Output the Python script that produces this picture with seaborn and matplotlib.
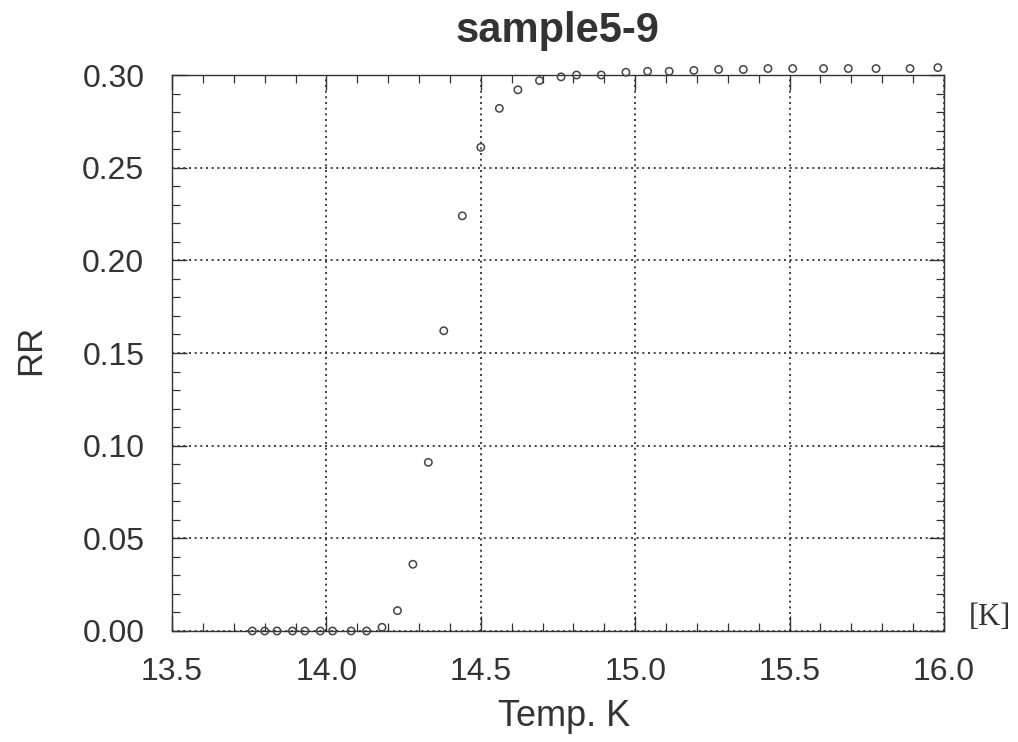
import numpy as np
import pandas as pd
import matplotlib
matplotlib.use("Agg")
import matplotlib.pyplot as plt
from matplotlib.ticker import MultipleLocator
import seaborn as sns

# data
temp = [13.76, 13.80, 13.84, 13.89, 13.93, 13.98, 14.02, 14.08, 14.13, 14.18,
        14.23, 14.28, 14.33, 14.38, 14.44, 14.50, 14.56, 14.62, 14.69, 14.76,
        14.81, 14.89, 14.97, 15.04, 15.11, 15.19, 15.27, 15.35, 15.43, 15.51,
        15.61, 15.69, 15.78, 15.89, 15.98]
rr = [0.000, 0.000, 0.000, 0.000, 0.000, 0.000, 0.000, 0.000, 0.000, 0.002,
      0.011, 0.036, 0.091, 0.162, 0.224, 0.261, 0.282, 0.292, 0.297, 0.299,
      0.300, 0.300, 0.3015, 0.302, 0.302, 0.3025, 0.303, 0.303, 0.3035, 0.3035,
      0.3035, 0.3035, 0.3035, 0.3035, 0.304]
xticks = [13.5, 14.0, 14.5, 15.0, 15.5, 16.0]
yticks = [0.00, 0.05, 0.10, 0.15, 0.20, 0.25, 0.30]

df = pd.DataFrame({"Temp": temp, "RR": rr})

sns.set_style("ticks")
plt.rcParams["font.family"] = ["Liberation Sans", "DejaVu Sans"]
txt = "#333333"

fig = plt.figure(figsize=(10.18, 7.42), dpi=100)
ax = fig.add_axes([0.169, 0.1496, 0.7583, 0.7493])

sns.scatterplot(data=df, x="Temp", y="RR", ax=ax, marker="o", s=28,
                facecolor="none", edgecolor="#444444", linewidth=1.1,
                clip_on=False, zorder=5)

ax.set_xlim(13.5, 16.0)
ax.set_ylim(0.0, 0.30)
ax.set_xticks(xticks)
ax.set_yticks(yticks)
ax.set_xticklabels([f"{v:.1f}" for v in xticks])
ax.set_yticklabels([f"{v:.2f}" for v in yticks])
ax.xaxis.set_minor_locator(MultipleLocator(0.1))
ax.yaxis.set_minor_locator(MultipleLocator(0.01))

ax.tick_params(which="major", direction="in", length=11, width=1.0,
               top=True, right=True, labelsize=23, labelcolor=txt, color="#333")
ax.tick_params(axis="x", which="major", pad=19)
ax.tick_params(axis="y", which="major", pad=20)
ax.tick_params(which="minor", direction="in", length=6, width=0.9,
               top=True, right=True, color="#333")

ax.grid(True, which="major", linestyle=(0, (1.2, 2.2)), color="#222222",
        linewidth=1.2)
for sp in ax.spines.values():
    sp.set_color("#333333")
    sp.set_linewidth(1.0)

ax.set_xlabel("Temp. K", fontsize=26, color=txt)
ax.set_ylabel("RR", fontsize=25, color=txt)
ax.xaxis.set_label_coords(0.508, -0.122)
ax.yaxis.set_label_coords(-0.162, 0.505)

fig.text(0.548, 0.943, "sample5-9", fontsize=30, fontweight="bold",
         color=txt, ha="center", va="baseline")
ax.text(1.059, 0.025, "[K]", transform=ax.transAxes, fontsize=22,
        family=["Liberation Serif", "DejaVu Serif"], color=txt,
        ha="center", va="center")

fig.savefig("out.png", dpi=100, facecolor="white")
